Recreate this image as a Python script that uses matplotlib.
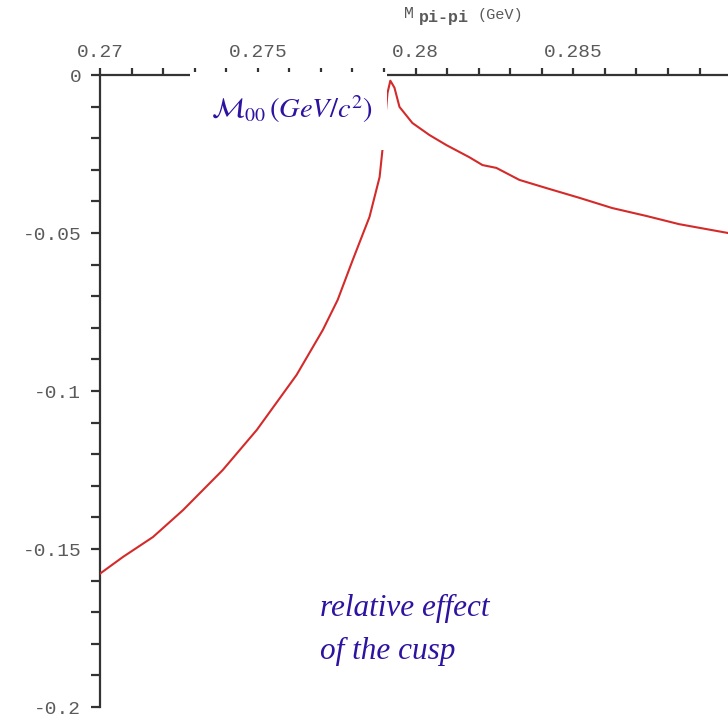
import numpy as np
import matplotlib.pyplot as plt
from matplotlib.patches import Rectangle

plt.rcParams['axes.unicode_minus'] = False
plt.rcParams['mathtext.fontset'] = 'stix'

# M_pi-pi (GeV) and relative effect of the cusp
mass = [0.27000, 0.27073, 0.27168, 0.27263, 0.27389, 0.27497, 0.27623,
        0.27706, 0.27753, 0.27801, 0.27854, 0.27886, 0.27896, 0.27911,
        0.27920, 0.27933, 0.27949, 0.27990, 0.28044, 0.28098, 0.28170,
        0.28212, 0.28256, 0.28329, 0.28415, 0.28520, 0.28623, 0.28731,
        0.28835, 0.28990]
effect = [-0.1578, -0.1525, -0.1462, -0.1377, -0.1250, -0.1123, -0.0949,
          -0.0807, -0.0712, -0.0585, -0.0449, -0.0323, -0.0228, -0.0057,
          -0.0018, -0.0040, -0.0101, -0.0152, -0.0190, -0.0222, -0.0260,
          -0.0285, -0.0294, -0.0332, -0.0358, -0.0389, -0.0421, -0.0446,
          -0.0472, -0.0500]

x_major = [0.27, 0.275, 0.28, 0.285]
x_labels = ['0.27', '0.275', '0.28', '0.285']
y_major = [0, -0.05, -0.1, -0.15, -0.2]
y_labels = ['0', '-0.05', '-0.1', '-0.15', '-0.2']

axis_col = '#333333'
label_col = '#5a5a5a'
blue = '#2e12a0'

fig = plt.figure(figsize=(7.28, 7.19), dpi=100)
ax = fig.add_axes([100 / 728, 12 / 719, 628 / 728, 632 / 719])

ax.plot(mass, effect, color='#d42a2a', lw=1.5, zorder=3)

ax.set_xlim(0.27, 0.2899)
ax.set_ylim(-0.2, 0)

for side in ['bottom', 'right']:
    ax.spines[side].set_visible(False)
for side in ['top', 'left']:
    ax.spines[side].set_color(axis_col)
    ax.spines[side].set_linewidth(1.6)

ax.xaxis.tick_top()
ax.set_xticks(x_major)
ax.set_xticklabels(x_labels)
ax.set_xticks(np.arange(0.27, 0.2899, 0.001), minor=True)
ax.set_yticks(y_major)
ax.set_yticklabels(y_labels)
ax.set_yticks(np.arange(-0.2, 0.001, 0.01), minor=True)

ax.tick_params(axis='x', which='both', direction='out', length=5, width=1.6,
               color=axis_col, pad=5)
ax.tick_params(axis='y', which='both', direction='out', length=6.5, width=1.6,
               color=axis_col, pad=7)
for lab in ax.get_xticklabels() + ax.get_yticklabels():
    lab.set_fontfamily('Liberation Mono')
    lab.set_fontsize(14)
    lab.set_color(label_col)

# white box over the axis with the mass label
box = Rectangle((190 / 728, 1 - 150 / 719), 197 / 728, 78 / 719,
                transform=fig.transFigure, facecolor='white',
                edgecolor='none', zorder=5)
fig.patches.append(box)
fig.text(211 / 728, 1 - 109 / 719,
         r'$\mathcal{M}_{\mathit{00}}\,(\mathit{GeV/c^2})$',
         color=blue, fontsize=20.5, va='center', ha='left', zorder=6)

# top axis title
fig.text(404 / 728, 1 - 18 / 719, 'M', family='Liberation Mono', fontsize=12,
         color=label_col, va='baseline', ha='left')
fig.text(419 / 728, 1 - 22 / 719, 'pi-pi', family='Liberation Mono',
         fontsize=12, fontweight='bold', color=label_col, va='baseline',
         ha='left')
fig.text(477 / 728, 1 - 19 / 719, '(GeV)', family='Liberation Mono',
         fontsize=11, color=label_col, va='baseline', ha='left')

fig.text(320 / 728, 1 - 630 / 719, 'relative effect\nof the cusp',
         family='Liberation Serif', style='italic', fontsize=22.5, color=blue,
         va='center', ha='left', linespacing=1.6)

fig.savefig('out.png', dpi=100)
